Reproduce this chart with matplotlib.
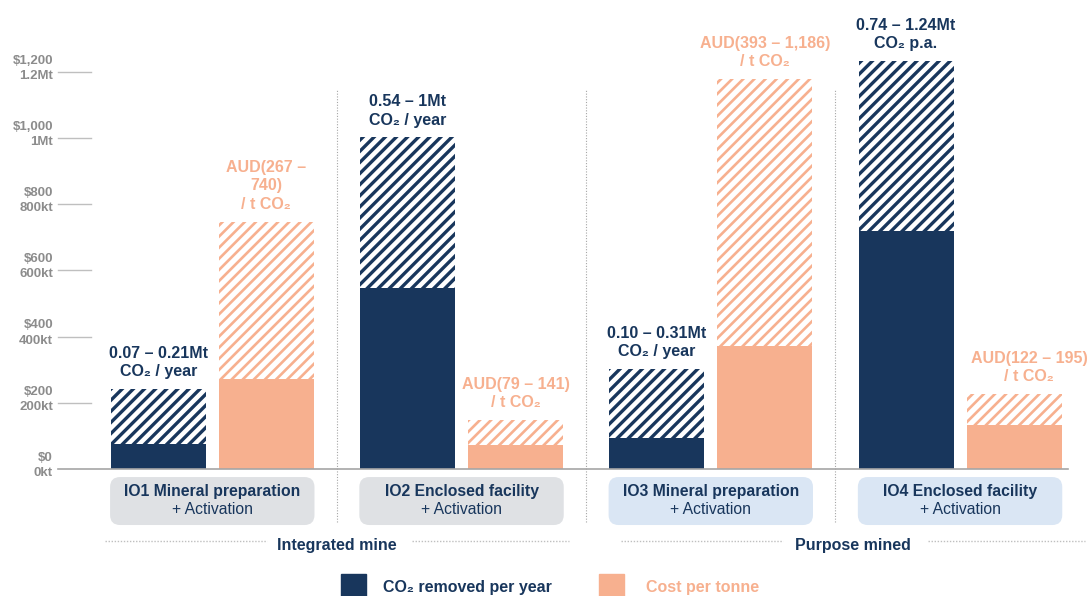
import matplotlib
matplotlib.use("Agg")
import matplotlib.pyplot as plt
from matplotlib.patches import FancyBboxPatch, Rectangle
from matplotlib.lines import Line2D
from matplotlib.transforms import blended_transform_factory

plt.rcParams['font.family'] = ['Liberation Sans', 'DejaVu Sans']

# Data (kt for CO2, AUD per tonne for cost) - low / high ranges
categories = ['IO1 Mineral preparation', 'IO2 Enclosed facility',
              'IO3 Mineral preparation', 'IO4 Enclosed facility']
sublabels = ['+ Activation'] * 4
co2_low = [75, 548, 95, 720]
co2_high = [242, 1002, 302, 1233]
cost_low = [272, 72, 372, 133]
cost_high = [747, 148, 1178, 227]
co2_labels = ['0.07 – 0.21Mt\nCO₂ / year', '0.54 – 1Mt\nCO₂ / year',
              '0.10 – 0.31Mt\nCO₂ / year', '0.74 – 1.24Mt\nCO₂ p.a.']
cost_labels = ['AUD(267 –\n740)\n/ t CO₂', 'AUD(79 – 141)\n/ t CO₂',
               'AUD(393 – 1,186)\n/ t CO₂', 'AUD(122 – 195)\n/ t CO₂']
yticks = [0, 200, 400, 600, 800, 1000, 1200]
ytick_labels = ['$0\n0kt', '$200\n200kt', '$400\n400kt', '$600\n600kt',
                '$800\n800kt', '$1,000\n1Mt', '$1,200\n1.2Mt']
groups = ['Integrated mine', 'Purpose mined']
group_centers = [0.5, 2.57]
legend_labels = ['CO₂ removed per year', 'Cost per tonne']

NAVY = '#18365c'
PEACH = '#f7b08f'
GREY = '#8c8c8c'
BOX_COLORS = ['#dfe1e4', '#dfe1e4', '#dae6f4', '#dae6f4']

fig = plt.figure(figsize=(10.9, 5.96), dpi=100)
ax = fig.add_axes([0.0532, 0.2131, 0.9266, 0.722])
ax.set_xlim(-0.619, 3.433)
ax.set_ylim(0, 1300)

w = 0.381
off = 0.2167
x = list(range(len(categories)))

for i in x:
    xc, xk = i - off, i + off
    ax.bar(xc, co2_low[i], w, color=NAVY, linewidth=0)
    b1 = ax.bar(xc, co2_high[i] - co2_low[i], w, bottom=co2_low[i],
                facecolor='white', edgecolor=NAVY, hatch='///', linewidth=0)
    ax.bar(xk, cost_low[i], w, color=PEACH, linewidth=0)
    b2 = ax.bar(xk, cost_high[i] - cost_low[i], w, bottom=cost_low[i],
                facecolor='white', edgecolor=PEACH, hatch='///', linewidth=0)
    for p in b1:
        if hasattr(p, 'set_hatch_linewidth'):
            p.set_hatch_linewidth(2.4)
    for p in b2:
        if hasattr(p, 'set_hatch_linewidth'):
            p.set_hatch_linewidth(1.9)

    ax.annotate(co2_labels[i], (xc, co2_high[i]), xytext=(0, 7),
                textcoords='offset points', ha='center', va='bottom',
                fontsize=11.5, fontweight='bold', color=NAVY,
                linespacing=1.3, annotation_clip=False)
    dx = 11 if i == 3 else 0
    ax.annotate(cost_labels[i], (xk, cost_high[i]), xytext=(dx, 7),
                textcoords='offset points', ha='center', va='bottom',
                fontsize=11.5, fontweight='bold', color=PEACH,
                linespacing=1.3, annotation_clip=False)

# axes styling
for s in ['top', 'right', 'left']:
    ax.spines[s].set_visible(False)
ax.spines['bottom'].set_color('#a6a6a6')
ax.spines['bottom'].set_linewidth(1.2)
ax.set_xticks([])
ax.set_yticks([])

ytr = ax.get_yaxis_transform()
for t, lab in zip(yticks, ytick_labels):
    if t > 0:
        ax.plot([0, 0.033], [t, t], color='#bfbfbf', lw=1, transform=ytr,
                clip_on=False)
    ax.text(-0.005, t + 11, lab, transform=ytr, ha='right', va='center',
            fontsize=9.5, fontweight='bold', color=GREY, linespacing=1.35)

# figure-level elements positioned on the category axis
bt = blended_transform_factory(ax.transData, fig.transFigure)

for sep in [0.5, 1.5, 2.5]:
    fig.add_artist(Line2D([sep, sep], [0.124, 0.849], transform=bt,
                          color='#a6a6a6', lw=0.8, linestyle=(0, (1, 1.5))))

for i in x:
    box = FancyBboxPatch((i - 0.41, 0.1191), 0.82, 0.0805,
                         boxstyle='round,pad=0,rounding_size=0.04',
                         mutation_aspect=249.2 / 596,
                         facecolor=BOX_COLORS[i], edgecolor='none',
                         transform=bt)
    fig.add_artist(box)
    fig.text(i, 0.1753, categories[i], transform=bt, ha='center',
             va='center', fontsize=11.3, fontweight='bold', color=NAVY)
    fig.text(i, 0.1443, sublabels[i], transform=bt, ha='center',
             va='center', fontsize=11.3, color=NAVY)

for c, g in zip(group_centers, groups):
    fig.text(c, 0.0839, g, transform=bt, ha='center', va='center',
             fontsize=11.5, fontweight='bold', color=NAVY)
    for a, b in [(c - 0.93, c - 0.28), (c + 0.30, c + 0.93)]:
        fig.add_artist(Line2D([a, b], [0.0923, 0.0923], transform=bt,
                              color='#bfbfbf', lw=1, linestyle=(0, (1, 1.2))))

# legend
fig.add_artist(Rectangle((0.3128, -0.004), 0.0229, 0.041, color=NAVY,
                         transform=fig.transFigure))
fig.text(0.3514, 0.0151, legend_labels[0], ha='left', va='center',
         fontsize=11.5, fontweight='bold', color=NAVY)
fig.add_artist(Rectangle((0.5495, -0.004), 0.0229, 0.041, color=PEACH,
                         transform=fig.transFigure))
fig.text(0.5927, 0.0151, legend_labels[1], ha='left', va='center',
         fontsize=11.5, fontweight='bold', color=PEACH)

fig.savefig('out.png', dpi=100)
